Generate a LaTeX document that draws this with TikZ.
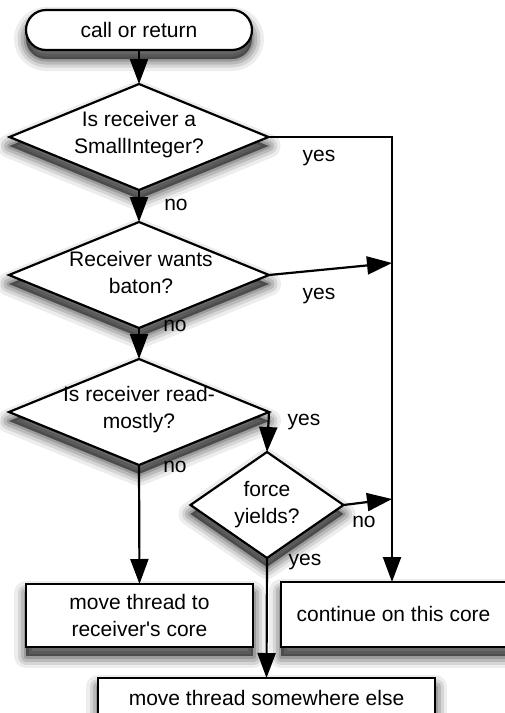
\documentclass[tikz,border=0pt]{standalone}
\usepackage{fontspec}
\setmainfont{Liberation Sans}
\usetikzlibrary{shapes.geometric,arrows.meta}
\begin{document}
\begin{tikzpicture}[x=1pt,y=-1pt,
  font=\fontsize{21}{27}\selectfont,
  every node/.style={inner sep=0pt, outer sep=0pt},
  shad/.style={
    preaction={draw=black, fill=black, opacity=0.07, line width=24pt, line join=round, transform canvas={yshift=-9pt}},
    preaction={draw=black, fill=black, opacity=0.10, line width=17pt, line join=round, transform canvas={yshift=-9pt}},
    preaction={draw=black, fill=black, opacity=0.13, line width=11pt, line join=round, transform canvas={yshift=-9pt}},
    preaction={draw=black, fill=black, opacity=0.16, line width=5pt, line join=round, transform canvas={yshift=-9pt}},
    preaction={fill=black, opacity=0.2, transform canvas={yshift=-9pt}}},
  base/.style={draw, line width=2.2pt, fill=white, shad},
  term/.style={base, rounded corners=20pt, minimum width=226pt, minimum height=40pt},
  dia/.style={base, diamond, minimum width=#1, minimum height=106pt},
  dtext/.style={align=center},
  box/.style={base, rectangle, align=center},
  arr/.style={line width=2.2pt, -{Triangle[length=25pt,width=18pt]}},
  lab/.style={}
]
\useasboundingbox (0,0) rectangle (504,713);

\node[term] (start) at (139,30) {call or return};
\node[dia=259pt] (d1) at (139,137) {};
\node[dtext] (t1) at (139,135) {Is receiver a\\SmallInteger?};
\node[dia=260pt] (d2) at (139,275) {};
\node[dtext] (t2) at (141,272) {Receiver wants\\baton?};
\node[dia=260pt] (d3) at (139,412) {};
\node[dtext] (t3) at (139,410) {Is receiver read-\\mostly?};
\node[dia=153pt] (d4) at (267,505) {};
\node[dtext] (t4) at (267,505) {force\\yields?};
\node[box, minimum width=227pt, minimum height=63pt] (b1) at (139.5,615.5) {move thread to\\receiver\textquotesingle s core};
\node[box, minimum width=232pt, minimum height=65pt] (b2) at (397,614.5) {};
\node (t5) at (393.5,614) {continue on this core};
\node[box, minimum width=337pt, minimum height=40pt] (b3) at (266.5,698) {move thread somewhere else};

\coordinate (j1) at (392,263);
\coordinate (j2) at (392,499);

\draw[arr] (start.south) -- (d1.north);
\draw[arr] (d1.south) -- (d2.north);
\draw[arr] (d2.south) -- (d3.north);
\draw[arr] (d3.south) -- (b1.north);
\draw[arr] (d1.east) -| (j1 |- b2.north);
\draw[arr] (d2.east) -- (j1);
\draw[arr] (d3.east) -- (d4.north);
\draw[arr] (d4.east) -- (j2);
\draw[arr] (d4.south) -- (b3.north);

\node[lab] (y1) at (319,158) {yes};
\node[lab] (n1) at (176,205) {no};
\node[lab] (y2) at (319,296) {yes};
\node[lab] (n2) at (175,326) {no};
\node[lab] (y3) at (304,422) {yes};
\node[lab] (n3) at (175,467) {no};
\node[lab] (n4) at (364,522) {no};
\node[lab] (y4) at (305,562) {yes};
\end{tikzpicture}
\end{document}
